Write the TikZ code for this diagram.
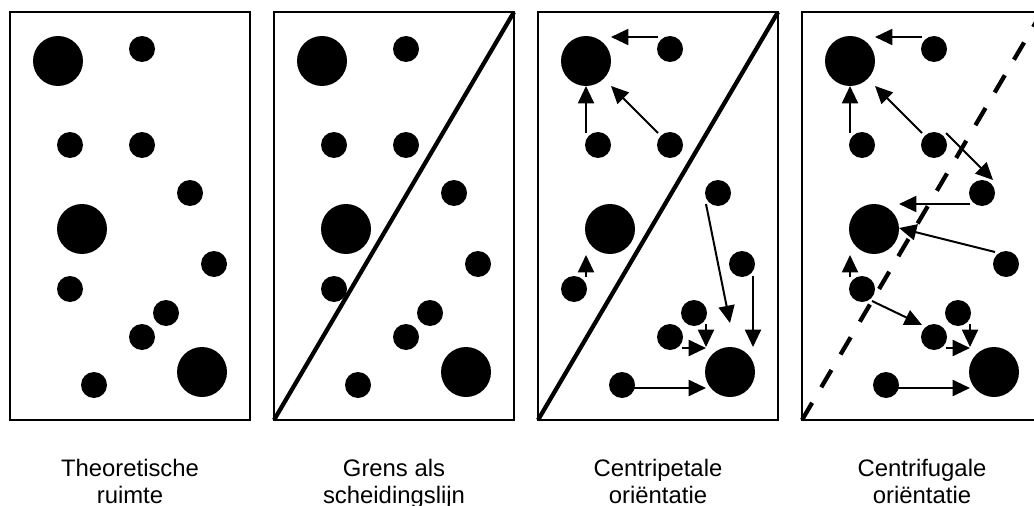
\documentclass[tikz,border=0pt]{standalone}
\usepackage{fontspec}
\setmainfont{Liberation Sans}
\usetikzlibrary{arrows.meta}

\tikzset{
  panel/.style={draw, line width=1.4pt, minimum width=180pt, minimum height=306pt, inner sep=0pt, outer sep=0pt},
  bigdot/.style={circle, fill, inner sep=0pt, minimum size=37.5pt},
  smalldot/.style={circle, fill, inner sep=0pt, minimum size=19.5pt},
  pull/.style={-{Triangle[length=13pt, width=12pt]}, line width=1.5pt},
  divider/.style={line width=3.2pt},
  caption/.style={align=center, font=\fontsize{17.9}{20}\selectfont}
}

% the twelve dots of one panel; #1 is the x of the lower left small dot
\newcommand{\spreaddots}[1]{%
  \node[bigdot] (A1) at (58,61) {};
  \node[bigdot] (A2) at (82,229) {};
  \node[bigdot] (A3) at (202,372) {};
  \node[smalldot] (b1) at (142,49) {};
  \node[smalldot] (b2) at (70,145) {};
  \node[smalldot] (b3) at (142,145) {};
  \node[smalldot] (b4) at (190,193) {};
  \node[smalldot] (b5) at (214,264) {};
  \node[smalldot] (b6) at (#1,289) {};
  \node[smalldot] (b7) at (166,313) {};
  \node[smalldot] (b8) at (142,337) {};
  \node[smalldot] (b9) at (94,385) {};
}

\begin{document}
\begin{tikzpicture}[x=0.75pt, y=-0.75pt]
  \useasboundingbox (0,0) rectangle (1034,506);
  \clip (0,0) rectangle (1034,506);

  % theoretical space
  \begin{scope}[name prefix=p1-]
    \node[panel] (box) at (130,216) {};
    \spreaddots{70}
    \node[caption, anchor=base] (cap) at (130,503) {Theoretische\\ruimte};
  \end{scope}

  % border as dividing line
  \begin{scope}[shift={(264,0)}, name prefix=p2-]
    \node[panel] (box) at (130,216) {};
    \spreaddots{70}
    \draw[divider] (box.south west) -- (box.north east);
    \node[caption, anchor=base] (cap) at (130,503) {Grens als\\scheidingslijn};
  \end{scope}

  % centripetal
  \begin{scope}[shift={(528,0)}, name prefix=p3-]
    \node[panel] (box) at (130,216) {};
    \spreaddots{46}
    \draw[divider] (box.south west) -- (box.north east);
    \draw[pull] ([shift={(-12,-12)}]b1.center) -- ([shift={(25,-24)}]A1.center);
    \draw[pull] ([shift={(-12,-12)}]b2.center) -- ([shift={(0,25)}]A1.center);
    \draw[pull] ([shift={(-12,-12)}]b3.center) -- ([shift={(25,25)}]A1.center);
    \draw[pull] ([shift={(12,-12)}]b6.center) -- ([shift={(-24,26)}]A2.center);
    \draw[pull] ([shift={(-12,11)}]b4.center) -- ([shift={(0,-49)}]A3.center);
    \draw[pull] ([shift={(11,12)}]b5.center) -- ([shift={(23,-25)}]A3.center);
    \draw[pull] ([shift={(12,11)}]b7.center) -- ([shift={(-24,-25)}]A3.center);
    \draw[pull] ([shift={(12,11)}]b8.center) -- ([shift={(-24,-24)}]A3.center);
    \draw[pull] ([shift={(12,3)}]b9.center) -- ([shift={(-24,16)}]A3.center);
    \node[caption, anchor=base] (cap) at (130,503) {Centripetale\\oriëntatie};
  \end{scope}

  % centrifugal
  \begin{scope}[shift={(792,0)}, name prefix=p4-]
    \node[panel] (box) at (130,216) {};
    \spreaddots{70}
    \draw[divider, dash pattern=on 15pt off 13.5pt] (box.south west) -- (box.north east);
    \draw[pull] ([shift={(-12,-12)}]b1.center) -- ([shift={(25,-24)}]A1.center);
    \draw[pull] ([shift={(-12,-12)}]b2.center) -- ([shift={(0,25)}]A1.center);
    \draw[pull] ([shift={(-12,-12)}]b3.center) -- ([shift={(25,25)}]A1.center);
    \draw[pull] ([shift={(12,-12)}]b3.center) -- ([shift={(11,-13)}]b4.center);
    \draw[pull] ([shift={(-12,11)}]b4.center) -- ([shift={(25,-25)}]A2.center);
    \draw[pull] ([shift={(-11,-12)}]b5.center) -- ([shift={(25,-1)}]A2.center);
    \draw[pull] ([shift={(-12,-12)}]b6.center) -- ([shift={(-24,26)}]A2.center);
    \draw[pull] ([shift={(10,12)}]b6.center) -- ([shift={(-12,-12)}]b8.center);
    \draw[pull] ([shift={(12,11)}]b7.center) -- ([shift={(-24,-25)}]A3.center);
    \draw[pull] ([shift={(12,11)}]b8.center) -- ([shift={(-24,-24)}]A3.center);
    \draw[pull] ([shift={(12,3)}]b9.center) -- ([shift={(-24,16)}]A3.center);
    \node[caption, anchor=base] (cap) at (130,503) {Centrifugale\\oriëntatie};
  \end{scope}
\end{tikzpicture}
\end{document}
